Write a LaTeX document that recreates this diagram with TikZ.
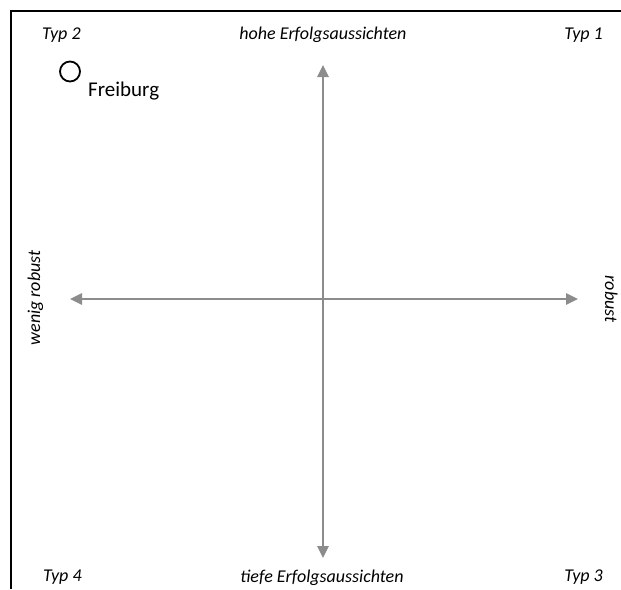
\documentclass[tikz,border=0pt]{standalone}
\usepackage{fontspec}
\setmainfont{Carlito}
\usetikzlibrary{arrows.meta}
\definecolor{axisgray}{RGB}{140,140,140}
\tikzset{
  lbl/.style={font=\fontsize{18}{21}\selectfont\itshape, inner sep=0pt},
  axis/.style={draw=axisgray, line width=2.6pt, {Triangle[length=12pt,width=11pt]}-{Triangle[length=12pt,width=11pt]}},
  frameline/.style={draw=black, line width=2pt}
}
\begin{document}
\begin{tikzpicture}[x=1pt,y=-1pt]
\useasboundingbox (0,0) rectangle (621,589);
% frame (top and left)
\coordinate (fl) at (10.5,589);
\coordinate (fc) at (10.5,10.5);
\coordinate (fr) at (621,10.5);
\draw[frameline] (fl) -- (fc) -- (fr);
% axes
\coordinate (top) at (323,65);
\coordinate (bot) at (323,558);
\coordinate (lft) at (70,299);
\coordinate (rgt) at (578,299);
\draw[axis] (top) -- (bot);
\draw[axis] (lft) -- (rgt);
% labels
\node[lbl, anchor=base west] (t2) at (42,39) {Typ 2};
\node[lbl, anchor=base east] (t1) at (603,39) {Typ 1};
\node[lbl, anchor=base west] (t4) at (43,581) {Typ 4};
\node[lbl, anchor=base east] (t3) at (603,581) {Typ 3};
\node[lbl, anchor=base] (hohe) at (323,39) {hohe Erfolgsaussichten};
\node[lbl, anchor=base] (tiefe) at (322,582) {tiefe Erfolgsaussichten};
\node[lbl, rotate=90, anchor=base] (wenig) at (40,298) {wenig robust};
\node[lbl, rotate=-90, anchor=base] (rob) at (605,299) {robust};
% Freiburg
\node[draw=black, line width=1.8pt, circle, minimum size=20pt, inner sep=0pt] (circ) at (70,71.5) {};
\node[font=\fontsize{21}{25}\selectfont, inner sep=0pt, anchor=base west] (fr) at (88,96) {Freiburg};
\end{tikzpicture}
\end{document}
